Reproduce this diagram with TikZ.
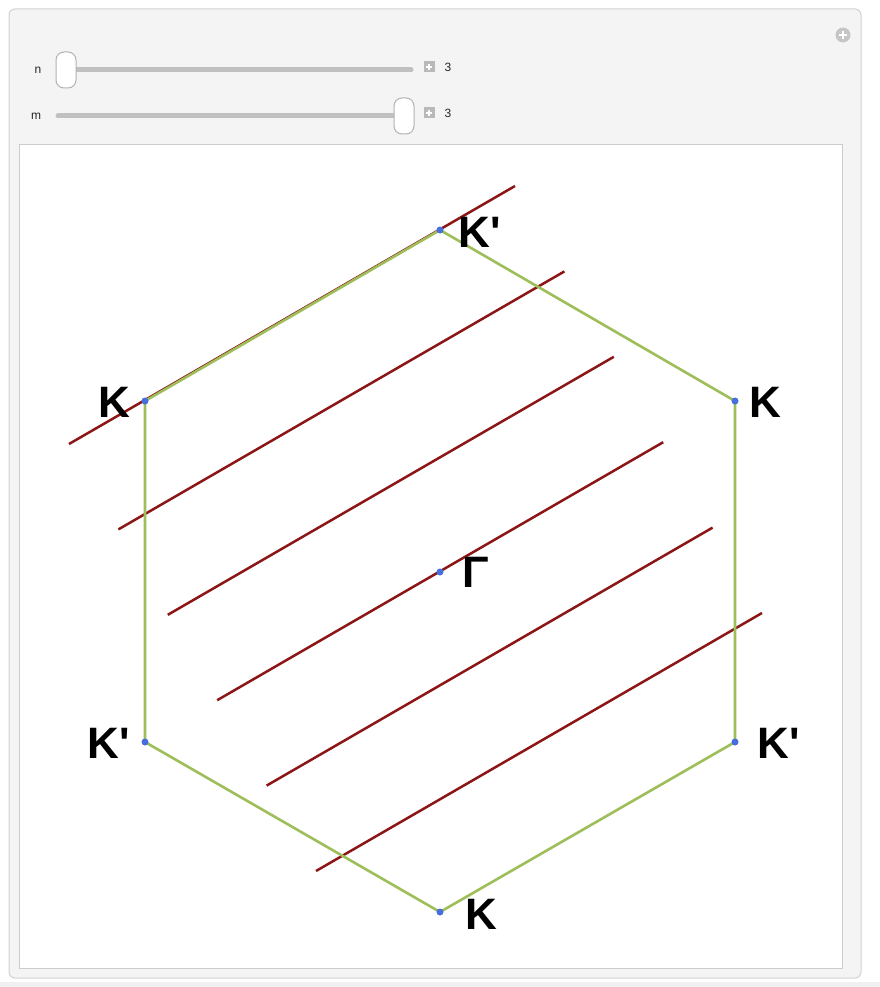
\documentclass[tikz,border=0pt]{standalone}
\usepackage{fontspec}
\setmainfont{Liberation Sans}
\begin{document}
\begin{tikzpicture}[x=1pt,y=-1pt,
  hexedge/.style={draw=hexgreen,line width=2.6pt,line join=round},
  bandline/.style={draw=bandred,line width=2.5pt},
  vtx/.style={circle,fill=ptblue,inner sep=0pt,minimum size=7pt},
  lbl/.style={font=\fontsize{44}{44}\selectfont\bfseries,inner sep=0pt},
  small/.style={font=\fontsize{12}{12}\selectfont,inner sep=0pt,text=black!85},
  track/.style={draw=trackgray,line width=5pt,line cap=round},
  thumb/.style={draw=gray!60,fill=white,line width=1pt,rounded corners=8pt,minimum width=20pt,minimum height=36pt,inner sep=0pt},
  plusbox/.style={fill=gray!55,minimum size=11pt,inner sep=0pt}
]
\definecolor{hexgreen}{RGB}{158,190,90}
\definecolor{bandred}{RGB}{140,22,22}
\definecolor{ptblue}{RGB}{70,110,220}
\definecolor{panelgray}{RGB}{244,244,244}
\definecolor{trackgray}{RGB}{192,192,192}
\useasboundingbox (0,0) rectangle (880,987);
\fill[white] (0,0) rectangle (880,987);
% panel
\draw[fill=panelgray,draw=gray!35,line width=1pt,rounded corners=6pt] (9,9) rectangle (861,978);
\fill[gray!12] (0,982) rectangle (880,987);
% plot area
\draw[fill=white,draw=gray!40,line width=1pt] (19,145) rectangle (842,968);
% top-right icon
\node[circle,fill=gray!45,minimum size=15pt,inner sep=0pt] (opt) at (843,35) {};
\draw[white,line width=2.2pt] ([xshift=-4pt]opt.center) -- ([xshift=4pt]opt.center);
\draw[white,line width=2.2pt] ([yshift=-4pt]opt.center) -- ([yshift=4pt]opt.center);
% slider n
\node[small] (nlab) at (38,70) {n};
\coordinate (ns) at (65,70);
\coordinate (ne) at (411,70);
\draw[track] (ns) -- (ne);
\node[thumb] (nthumb) at (66,70) {};
\node[plusbox] (nplus) at (429,67) {};
\draw[white,line width=1.5pt] ([xshift=-3pt]nplus.center) -- ([xshift=3pt]nplus.center);
\draw[white,line width=1.5pt] ([yshift=-3pt]nplus.center) -- ([yshift=3pt]nplus.center);
\node[small] (nval) at (448,67) {3};
% slider m
\node[small] (mlab) at (36,116) {m};
\coordinate (ms) at (58,116);
\coordinate (me) at (404,116);
\draw[track] (ms) -- (me);
\node[thumb] (mthumb) at (404,116) {};
\node[plusbox] (mplus) at (429,113) {};
\draw[white,line width=1.5pt] ([xshift=-3pt]mplus.center) -- ([xshift=3pt]mplus.center);
\draw[white,line width=1.5pt] ([yshift=-3pt]mplus.center) -- ([yshift=3pt]mplus.center);
\node[small] (mval) at (448,113) {3};
% red lines
\foreach \i in {0,...,5} {
  \coordinate (a\i) at ({69+49.4*\i},{444+85.4*\i});
  \coordinate (b\i) at ({515+49.4*\i},{186+85.4*\i});
  \draw[bandline] (a\i) -- (b\i);
}
% hexagon
\coordinate (T) at (440,230);
\coordinate (UR) at (735,401);
\coordinate (LR) at (735,742);
\coordinate (B) at (440,912);
\coordinate (LL) at (145,742);
\coordinate (UL) at (145,401);
\draw[hexedge] (T) -- (UR) -- (LR) -- (B) -- (LL) -- (UL) -- cycle;
\foreach \p in {T,UR,LR,B,LL,UL} \node[vtx] at (\p) {};
\node[vtx] (G) at (440,572) {};
% labels
\node[lbl] (lT) at (480,232) {K\textquotesingle};
\node[lbl] (lUL) at (114,402) {K};
\node[lbl] (lUR) at (765,402) {K};
\node[lbl] (lG) at (476,572) {Γ};
\node[lbl] (lLL) at (109,743) {K\textquotesingle};
\node[lbl] (lLR) at (779,743) {K\textquotesingle};
\node[lbl] (lB) at (481,914) {K};
\end{tikzpicture}
\end{document}
